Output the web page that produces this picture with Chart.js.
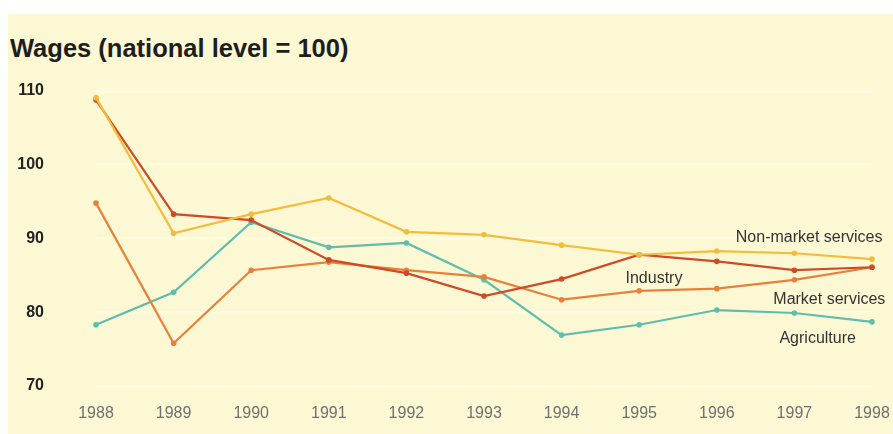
<!DOCTYPE html>
<html>
<head>
<meta charset="utf-8">
<script src="https://cdn.jsdelivr.net/npm/chart.js@4/dist/chart.umd.min.js"></script>
<style>
  html, body { margin: 0; padding: 0; background: #ffffff; }
  #wrap { position: relative; width: 893px; height: 434px; overflow: hidden; }
  #panel { position: absolute; left: 8px; top: 14px; right: 0; bottom: 0; background: #fdf8d4; }
  #title {
    position: absolute; left: 10px; top: 36px;
    font: bold 25.5px "Liberation Sans", Arial, sans-serif; line-height: 25px;
    color: #1e1e1e; white-space: nowrap;
  }
  canvas { position: absolute; left: 0; top: 0; }
</style>
</head>
<body>
<div id="wrap">
  <div id="panel"></div>
  <div id="title">Wages (national level = 100)</div>
  <canvas id="wages-chart" width="893" height="434"></canvas>
</div>
<script>
// 연도 (x축)
const years = ["1988","1989","1990","1991","1992","1993","1994","1995","1996","1997","1998"];
// y축 눈금
const yTicks = [70, 80, 90, 100, 110];

// 부문별 임금 (전국 = 100)
const nonMarket   = [109.1, 90.7, 93.3, 95.5, 90.9, 90.5, 89.1, 87.8, 88.3, 88.0, 87.2];
const industry    = [108.8, 93.3, 92.5, 87.1, 85.3, 82.2, 84.5, 87.8, 86.9, 85.7, 86.1];
const marketServ  = [94.8, 75.8, 85.7, 86.8, 85.7, 84.8, 81.7, 82.9, 83.2, 84.4, 86.1];
const agriculture = [78.3, 82.7, 92.2, 88.8, 89.4, 84.4, 76.9, 78.3, 80.3, 79.9, 78.7];

// 선 옆에 붙는 이름표 (x = 연도 인덱스, y = 값)
const seriesLabels = [
  { text: "Non-market services", x: 9.19, y: 90.1 },
  { text: "Industry",            x: 7.19, y: 84.5 },
  { text: "Market services",     x: 9.45, y: 81.7 },
  { text: "Agriculture",         x: 9.30, y: 76.4 }
];

function makeLine(data, color) {
  return {
    data: data,
    borderColor: color,
    backgroundColor: color,
    borderWidth: 2.2,
    pointRadius: 2.8,
    pointBorderWidth: 0,
    tension: 0,
    fill: false
  };
}

// 이름표 그리기
const labelPlugin = {
  id: 'seriesLabels',
  afterDatasetsDraw(chart) {
    const ctx = chart.ctx;
    const xs = chart.scales.x, ys = chart.scales.y;
    ctx.save();
    ctx.font = '16px "Liberation Sans", Arial, sans-serif';
    ctx.fillStyle = '#333333';
    ctx.textAlign = 'center';
    ctx.textBaseline = 'middle';
    seriesLabels.forEach(function(l) {
      ctx.fillText(l.text, xs.getPixelForValue(l.x), ys.getPixelForValue(l.y));
    });
    ctx.restore();
  }
};

new Chart(document.getElementById('wages-chart'), {
  type: 'line',
  data: {
    labels: years,
    datasets: [
      makeLine(nonMarket, '#f2bd3c'),
      makeLine(industry, '#cf4a26'),
      makeLine(marketServ, '#e8803a'),
      makeLine(agriculture, '#5fbdad')
    ]
  },
  options: {
    responsive: false,
    animation: false,
    layout: { padding: { top: 91, right: 21, left: 0, bottom: 0 } },
    plugins: { legend: { display: false }, tooltip: { enabled: false }, title: { display: false } },
    scales: {
      x: {
        offset: false,
        border: { display: false },
        grid: { display: false, drawTicks: false },
        ticks: {
          color: '#707070',
          padding: 18,
          maxRotation: 0,
          autoSkip: false,
          font: { family: '"Liberation Sans", Arial, sans-serif', size: 16 }
        },
        afterFit(scale) {
          scale.height = 48;
          scale.paddingLeft = 0;
          scale.paddingRight = 0;
        }
      },
      y: {
        min: 70,
        max: 110,
        border: { display: false },
        grid: { color: 'rgba(255,255,240,0.4)', lineWidth: 3, drawTicks: false },
        afterBuildTicks(scale) { scale.ticks = yTicks.map(v => ({ value: v })); },
        ticks: {
          color: '#222222',
          padding: 52,
          font: { family: '"Liberation Sans", Arial, sans-serif', size: 16, weight: 'bold' }
        },
        afterFit(scale) {
          scale.width = 96;
          scale.paddingTop = 0;
          scale.paddingBottom = 0;
        }
      }
    }
  },
  plugins: [labelPlugin]
});
</script>
</body>
</html>
